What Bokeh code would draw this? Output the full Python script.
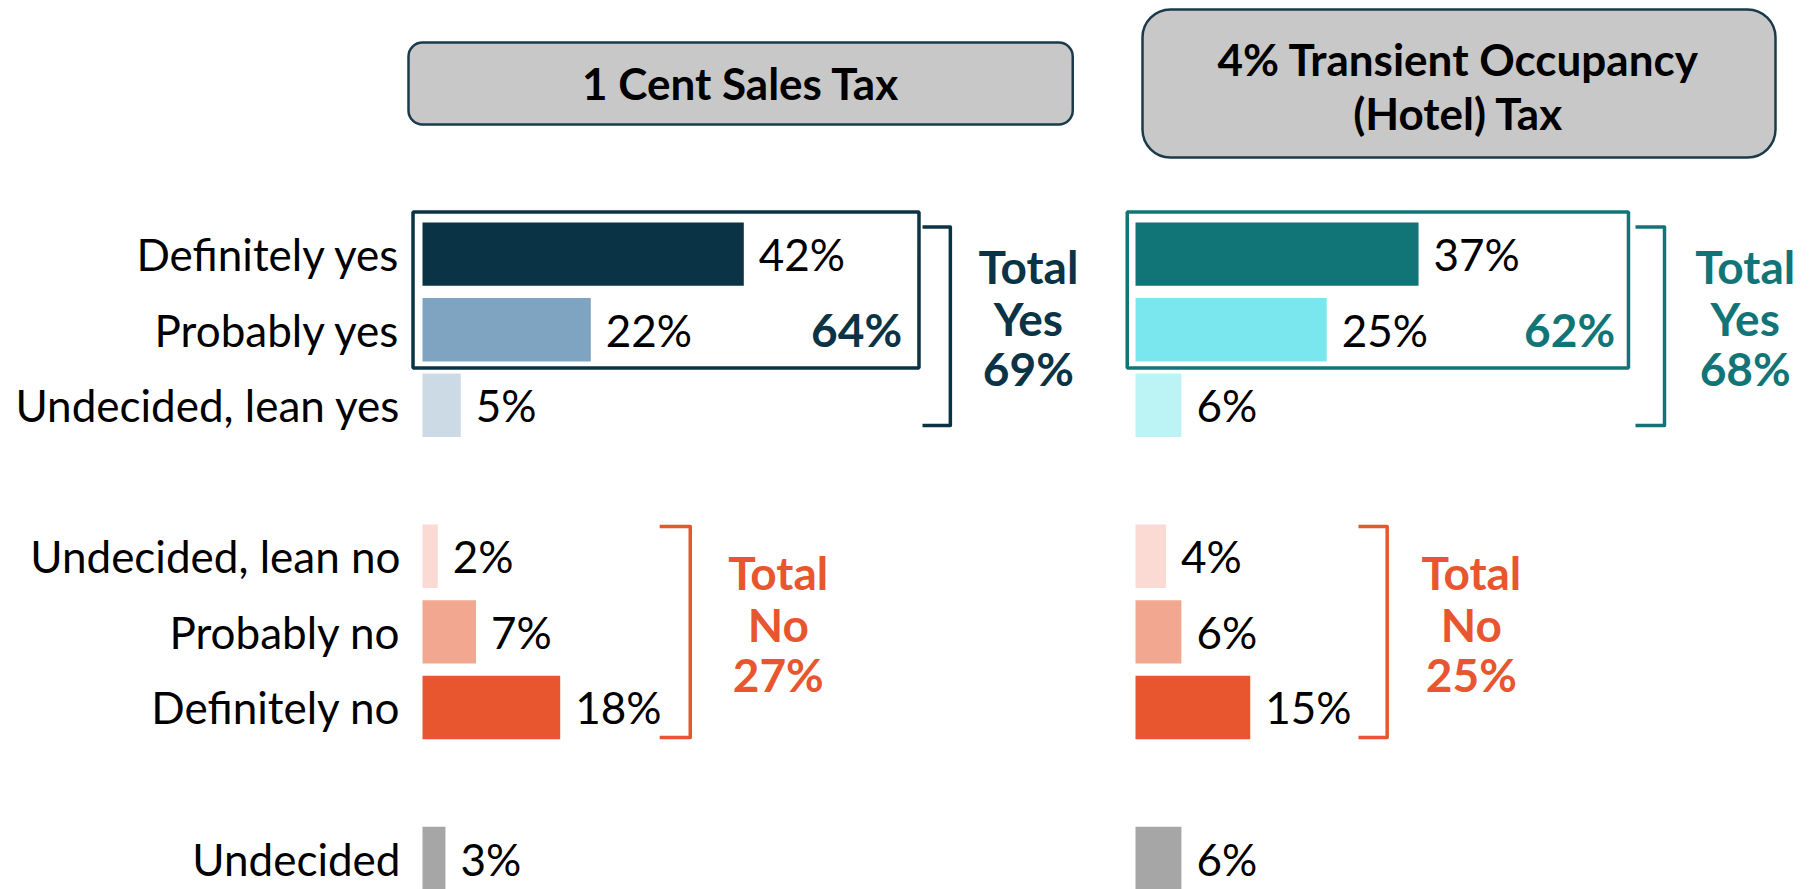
from bokeh.plotting import figure
from bokeh.layouts import row
from bokeh.models import Range1d, FixedTicker, BoxAnnotation, ColumnDataSource
from bokeh.core.properties import value
from bokeh.embed import file_html
from bokeh.resources import INLINE

# ---------------- data ----------------
categories = ["Definitely yes", "Probably yes", "Undecided, lean yes",
              "Undecided, lean no", "Probably no", "Definitely no", "Undecided"]
groups = ["yes", "yes", "yes", "no", "no", "no", "und"]
sales_tax = [42, 22, 5, 2, 7, 18, 3]
hotel_tax = [37, 25, 6, 4, 6, 15, 6]
panel_titles = [["1 Cent Sales Tax"], ["4% Transient Occupancy", "(Hotel) Tax"]]
top2_yes = [64, 62]
total_yes = [69, 68]
total_no = [27, 25]

sales_colors = ["#0B3346", "#7FA4C1", "#CCDAE6", "#FBDAD4", "#F2A791", "#E85630", "#A6A6A6"]
hotel_colors = ["#117578", "#7AE7EF", "#BCF3F5", "#FBDAD4", "#F2A791", "#E85630", "#A6A6A6"]
yes_colors = ["#0B3346", "#117578"]
NO_COLOR = "#E8562F"

FONT = "Lato"
FS = "44px"
FS_TOTAL = "46px"

# row positions: consecutive rows, with a blank gap of one slot between groups
pos = []
p_ = 0
for i, g in enumerate(groups):
    if i > 0 and g != groups[i - 1]:
        p_ += 1
    pos.append(p_)
    p_ += 1

PX_PER_PCT = 7.65
HEIGHT = 889
Y_RANGE = ((HEIGHT - 253.6) / 75.55, -3.357)


def make_panel(k, values, colors, width, frame_px_left, zero_px):
    frame_w = width - frame_px_left
    x0 = -zero_px / PX_PER_PCT
    x1 = (frame_w - zero_px) / PX_PER_PCT
    p = figure(width=width, height=HEIGHT, output_backend="svg", toolbar_location=None,
               x_range=Range1d(x0, x1), y_range=Range1d(*Y_RANGE),
               x_axis_location=None, y_axis_location=("left" if k == 0 else None),
               min_border_left=frame_px_left, min_border_right=0,
               min_border_top=0, min_border_bottom=0)
    p.outline_line_color = None
    p.xgrid.visible = False
    p.ygrid.visible = False
    p.background_fill_color = "white"
    p.border_fill_color = "white"

    if k == 0:
        ax = p.yaxis[0]
        ax.ticker = FixedTicker(ticks=pos)
        ax.major_label_overrides = {pp: c for pp, c in zip(pos, categories)}
        ax.axis_line_color = None
        ax.major_tick_line_color = None
        ax.minor_tick_line_color = None
        ax.major_tick_out = 0
        ax.major_label_standoff = 0
        ax.major_label_text_font = FONT
        ax.major_label_text_font_size = FS
        ax.major_label_text_color = "black"

    src = ColumnDataSource(dict(y=pos, v=values, c=colors,
                                lab=[f"{v}%" for v in values]))
    p.hbar(y="y", left=0, right="v", height=0.84, fill_color="c", line_color=None, source=src)
    p.text(x="v", y="y", text="lab", x_offset=15, source=src,
           text_font=value(FONT), text_font_size=value(FS), text_color="black",
           text_align="left", text_baseline="middle")

    # header box
    if k == 0:
        hb = dict(left=-1.83, right=85.0, top=-2.801, bottom=-1.716, r=14)
        title_x = 41.6
        title_y = [-2.26]
    else:
        hb = dict(left=0.915, right=83.66, top=-3.238, bottom=-1.279, r=28)
        title_x = 42.2
        title_y = [-2.577, -1.862]
    box = BoxAnnotation(left=hb["left"], right=hb["right"], top=hb["top"], bottom=hb["bottom"],
                        fill_color="#C8C8C8", fill_alpha=1.0, line_color="#1B3A4B",
                        line_alpha=1.0, line_width=2.5, border_radius=hb["r"], level="underlay")
    p.add_layout(box)
    p.text(x=[title_x] * len(title_y), y=title_y, text=panel_titles[k],
           text_font=value(FONT), text_font_size=value(FS), text_font_style="bold",
           text_color="black", text_align="center", text_baseline="middle")

    yc = yes_colors[k]
    bl = -1.24 if k == 0 else -1.08
    br = 64.9 if k == 0 else 64.44
    p.quad(left=[bl], right=[br], top=[-0.557], bottom=[1.508],
           fill_alpha=0, line_color=yc, line_width=3.5)
    p.text(x=[62.7], y=[pos[1]], text=[f"{top2_yes[k]}%"],
           text_font=value(FONT), text_font_size=value(FS_TOTAL), text_font_style="bold",
           text_color=yc, text_align="right", text_baseline="middle")

    # yes bracket
    bx0, bx1 = (65.36, 69.0) if k == 0 else (65.36, 69.15)
    p.line(x=[bx0, bx1, bx1, bx0], y=[-0.359, -0.359, 2.268, 2.268],
           line_color=yc, line_width=3.5, line_join="round")
    tx = 79.2 if k == 0 else 79.7
    p.text(x=[tx] * 3, y=[0.164, 0.855, 1.517], text=["Total", "Yes", f"{total_yes[k]}%"],
           text_font=value(FONT), text_font_size=value(FS_TOTAL), text_font_style="bold",
           text_color=yc, text_align="center", text_baseline="middle")

    # no bracket
    nx0, nx1 = (31.0, 35.0) if k == 0 else (29.15, 32.9)
    p.line(x=[nx0, nx1, nx1, nx0], y=[3.606, 3.606, 6.40, 6.40],
           line_color=NO_COLOR, line_width=3.5, line_join="round")
    nt = 46.5 if k == 0 else 43.9
    p.text(x=[nt] * 3, y=[4.215, 4.903, 5.565], text=["Total", "No", f"{total_no[k]}%"],
           text_font=value(FONT), text_font_size=value(FS_TOTAL), text_font_style="bold",
           text_color=NO_COLOR, text_align="center", text_baseline="middle")
    return p


left = make_panel(0, sales_tax, sales_colors, width=1110, frame_px_left=400, zero_px=22)
right = make_panel(1, hotel_tax, hotel_colors, width=694, frame_px_left=0, zero_px=25)

layout = row(left, right, spacing=0)
open("out.html", "w").write(file_html(layout, INLINE))
